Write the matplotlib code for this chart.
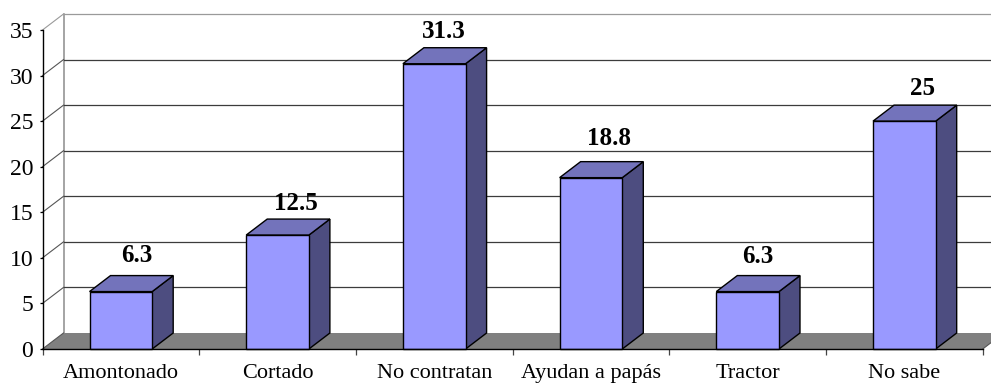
import matplotlib
matplotlib.use('Agg')
import matplotlib.pyplot as plt

categorias = ['Amontonado', 'Cortado', 'No contratan', 'Ayudan a papás', 'Tractor', 'No sabe']
valores = [6.3, 12.5, 31.3, 18.8, 6.3, 25]
etiquetas = ['6.3', '12.5', '31.3', '18.8', '6.3', '25']
ticks_y = [0, 5, 10, 15, 20, 25, 30, 35]

# desplazamiento de cada etiqueta respecto al centro de la barra (puntos)
etiqueta_dx = [11.5, 13.5, 7, 13, 7.5, 13]
etiqueta_dy = [14.5, 11, 11.5, 17, 13.5, 12]

plt.rcParams['font.family'] = ['Liberation Serif', 'DejaVu Serif']

W, H = 991, 383
fig = plt.figure(figsize=(W / 100, H / 100), dpi=100)
ax = fig.add_axes([42.5 / W, (H - 349) / H, (982.7 - 42.5) / W, (349 - 30) / H])
ax.set_xlim(0, 6)
ax.set_ylim(0, 35)

# profundidad del efecto 3D, en unidades de datos
dx = 21 / 156.7
dy = 16 / 9.114
ancho = 0.4

for s in ['top', 'right']:
    ax.spines[s].set_visible(False)
for s in ['left', 'bottom']:
    ax.spines[s].set_linewidth(1.0)
    ax.spines[s].set_zorder(6)

# suelo
ax.fill([0, 6, 6 + dx, dx], [0, 0, dy, dy], color='#808080', lw=0, zorder=1, clip_on=False)

# pared del fondo y rejilla
ax.plot([dx, dx], [dy, 35 + dy], color='#8c8c8c', lw=1.1, zorder=1.5, clip_on=False)
for t in ticks_y[1:]:
    c = '#9a9a9a' if t == 35 else '#3c3c3c'
    ax.plot([dx, 6 + dx], [t + dy, t + dy], color=c, lw=0.9, zorder=1.5, clip_on=False)
    ax.plot([0, dx], [t, t + dy], color='#555555' if t < 35 else '#9a9a9a', lw=0.8, zorder=1.5, clip_on=False)
ax.plot([0, dx], [0, dy], color='#555555', lw=0.8, zorder=1.5, clip_on=False)
ax.plot([6, 6 + dx], [0, dy], color='#555555', lw=0.8, zorder=1.5, clip_on=False)

# barras
for i, v in enumerate(valores):
    x0 = i + 0.5 - ancho / 2
    x1 = i + 0.5 + ancho / 2
    ax.fill([x1, x1 + dx, x1 + dx, x1], [0, dy, v + dy, v], facecolor='#4d4d80',
            edgecolor='black', lw=1.0, zorder=3, clip_on=False)
    ax.fill([x0, x1, x1 + dx, x0 + dx], [v, v, v + dy, v + dy], facecolor='#7373bb',
            edgecolor='black', lw=1.0, zorder=3, clip_on=False)
    ax.fill([x0, x1, x1, x0], [0, 0, v, v], facecolor='#9999ff',
            edgecolor='black', lw=1.0, zorder=4, clip_on=False)
    ax.annotate(etiquetas[i], (i + 0.5, v + dy), xytext=(etiqueta_dx[i], etiqueta_dy[i]),
                textcoords='offset points', ha='center', va='center',
                fontsize=18, fontweight='bold', color='black', zorder=5)

ax.set_yticks(ticks_y)
ax.tick_params(axis='y', labelsize=17, length=2.2, width=0.9, pad=4.5)
ax.set_xticks(range(7))
ax.set_xticklabels([])
ax.tick_params(axis='x', which='major', length=4.3, width=0.9, color='#444444')
ax.set_xticks([i + 0.5 for i in range(6)], minor=True)
ax.set_xticklabels(categorias, minor=True)
ax.tick_params(axis='x', which='minor', length=0, labelsize=16, pad=10.5)

fig.savefig('out.png', dpi=100)
